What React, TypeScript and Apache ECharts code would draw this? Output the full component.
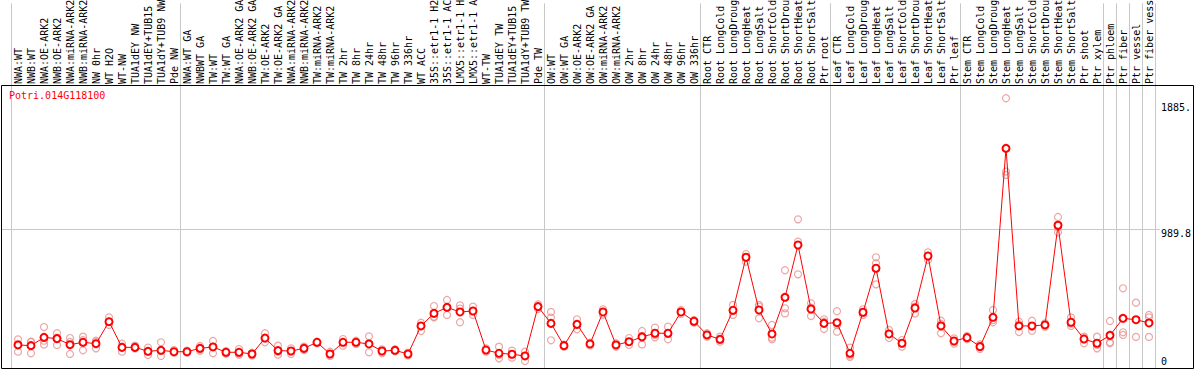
import React, { useEffect, useRef } from "react";
import * as echarts from "echarts";

const geneTitle = "Potri.014G118100";

// category labels as they can be read in the picture (the long ones are cut at 14 characters)
const categories = [
  "NWA:WT", "NWB:WT", "NWA:OE-ARK2", "NWB:OE-ARK2", "NWA:miRNA-ARK2", "NWB:miRNA-ARK2",
  "NW 0hr", "WT H2O", "WT-NW", "TUA1dEY NW", "TUA1dEY+TUB15", "TUA1dY+TUB9 NW", "Pde NW",
  "NWA:WT GA", "NWBWT GA", "TW:WT", "TW:WT GA", "NWA:OE-ARK2 GA", "NWB:OE-ARK2 GA",
  "TW:OE-ARK2", "TW:OE-ARK2 GA", "NWA:miRNA-ARK2", "NWB:miRNA-ARK2", "TW:miRNA-ARK2",
  "TW:miRNA-ARK2", "TW 2hr", "TW 8hr", "TW 24hr", "TW 48hr", "TW 96hr", "TW 336hr", "WT ACC",
  "35S::etr1-1 H2", "35S::etr1-1 AC", "LMX5::etr1-1 H", "LMX5::etr1-1 A", "WT-TW",
  "TUA1dEY TW", "TUA1dEY+TUB15", "TUA1dY+TUB9 TW", "Pde TW",
  "OW:WT", "OW:WT GA", "OW:OE-ARK2", "OW:OE-ARK2 GA", "OW:miRNA-ARK2", "OW:miRNA-ARK2",
  "OW 2hr", "OW 8hr", "OW 24hr", "OW 48hr", "OW 96hr", "OW 336hr",
  "Root CTR", "Root LongCold", "Root LongDroug", "Root LongHeat", "Root LongSalt",
  "Root ShortCold", "Root ShortDrou", "Root ShortHeat", "Root ShortSalt", "Ptr root",
  "Leaf CTR", "Leaf LongCold", "Leaf LongDroug", "Leaf LongHeat", "Leaf LongSalt",
  "Leaf ShortCold", "Leaf ShortDrou", "Leaf ShortHeat", "Leaf ShortSalt", "Ptr leaf",
  "Stem CTR", "Stem LongCold", "Stem LongDroug", "Stem LongHeat", "Stem LongSalt",
  "Stem ShortCold", "Stem ShortDrou", "Stem ShortHeat", "Stem ShortSalt", "Ptr shoot",
  "Ptr xylem", "Ptr phloem", "Ptr fiber", "Ptr vessel", "Ptr fiber vess",
];

// indices of categories that start a new group (separator drawn before them)
const groupStarts = [0, 13, 41, 53, 63, 73, 84, 85, 86, 87, 88];

const means = [
  167, 162, 221, 212, 169, 186, 176, 332, 150, 150,
  122, 129, 119, 119, 143, 153, 115, 115, 103, 216,
  127, 124, 143, 186, 103, 186, 186, 174, 124, 129,
  103, 302, 391, 434, 401, 408, 131, 108, 101, 89,
  439, 320, 162, 313, 174, 401, 167, 190, 224, 250,
  250, 401, 335, 238, 207, 413, 789, 415, 245, 505,
  876, 422, 320, 325, 108, 399, 711, 245, 179, 429,
  798, 302, 195, 219, 155, 363, 1562, 302, 302, 309,
  1016, 328, 209, 179, 235, 356, 346, 323,
];

const rep1 = [
  207, 190, 294, 250, 216, 226, 197, 363, 176, 162,
  148, 186, 131, 127, 160, 195, 124, 138, 112, 250,
  162, 143, 155, 190, 119, 209, 197, 228, 136, 136,
  112, 325, 443, 486, 448, 439, 143, 155, 127, 119,
  455, 401, 169, 349, 183, 420, 179, 216, 266, 290,
  297, 415, 344, 250, 226, 451, 812, 451, 309, 697,
  1058, 462, 349, 406, 148, 420, 789, 273, 202, 458,
  824, 339, 214, 231, 171, 415, 1917, 332, 339, 320,
  1075, 363, 226, 226, 337, 569, 467, 380,
];

const rep2 = [
  174, 188, 197, 219, 188, 202, 188, 332, 155, 145,
  122, 127, 117, 119, 143, 155, 115, 108, 103, 214,
  119, 124, 143, 186, 103, 186, 186, 179, 124, 129,
  103, 302, 368, 434, 425, 408, 131, 96, 101, 89,
  439, 361, 162, 313, 174, 401, 167, 190, 231, 238,
  245, 401, 335, 238, 202, 408, 789, 439, 219, 427,
  900, 432, 332, 309, 93, 396, 746, 245, 179, 439,
  798, 316, 195, 219, 155, 344, 1397, 313, 297, 309,
  1006, 318, 214, 167, 186, 257, 344, 363,
];

const rep3 = [
  119, 108, 171, 167, 103, 129, 143, 309, 119, 143,
  96, 89, 112, 112, 127, 108, 105, 98, 93, 186,
  98, 103, 131, 179, 89, 162, 174, 115, 108, 122,
  93, 266, 363, 380, 328, 380, 119, 72, 77, 53,
  422, 200, 155, 278, 164, 382, 155, 167, 171, 221,
  207, 387, 325, 226, 190, 380, 758, 356, 207, 391,
  668, 372, 280, 261, 82, 380, 597, 216, 155, 391,
  770, 250, 176, 207, 138, 328, 1373, 259, 268, 297,
  966, 302, 179, 143, 179, 238, 224, 224,
];

const yTickValues = [0, 989.8, 1885.3];
const yTickLabels = ["0", "989.8", "1885."];
const gridLineValues = [989.8];
const Y_MAX = 2011;

const MONO = "'DejaVu Sans Mono', monospace";
const RED = "#ff0000";
const PINK = "#e99090";
const GRAY = "#c8c8c8";

function tickLabel(v: number): string {
  for (let i = 0; i < yTickValues.length; i++) {
    if (Math.abs(yTickValues[i] - v) < 1e-6) return yTickLabels[i];
  }
  return "";
}

export default function App() {
  const ref = useRef<HTMLDivElement>(null);

  useEffect(() => {
    document.body.style.margin = "0";
    if (!ref.current) return;
    const chart = echarts.init(ref.current, undefined, { renderer: "svg" });

    const sepInterval = (index: number) => groupStarts.indexOf(index) >= 0;

    const repSeries = [rep1, rep2, rep3].map((r, k) => ({
      name: "rep" + (k + 1),
      type: "scatter",
      xAxisIndex: 1,
      yAxisIndex: 1,
      symbol: "circle",
      symbolSize: 7,
      itemStyle: { color: "rgba(0,0,0,0)", borderColor: PINK, borderWidth: 1.2 },
      data: r.map((v, i) => [i, v]),
      z: 3,
      silent: true,
    }));

    const option: any = {
      animation: false,
      backgroundColor: "#ffffff",
      title: {
        text: geneTitle,
        left: 9,
        top: 90,
        padding: 0,
        textStyle: { color: RED, fontSize: 10, fontFamily: MONO, fontWeight: "normal" },
      },
      grid: [
        { left: 11.5, right: 38.5, top: 0, height: 85 },
        { left: 11.5, right: 38.5, top: 85, bottom: 1.5 },
        { left: 1, right: 31, top: 85, bottom: 1.5 },
      ],
      xAxis: [
        {
          gridIndex: 0,
          type: "category",
          data: categories,
          position: "bottom",
          boundaryGap: true,
          axisLine: { show: false },
          axisTick: { show: false },
          axisLabel: {
            inside: true,
            rotate: 90,
            interval: 0,
            margin: 1,
            fontSize: 10,
            fontFamily: MONO,
            color: "#000",
            hideOverlap: false,
          },
          splitLine: { show: true, interval: sepInterval, lineStyle: { color: GRAY, width: 1 } },
        },
        {
          gridIndex: 1,
          type: "category",
          data: categories,
          boundaryGap: true,
          axisLine: { show: false },
          axisTick: { show: false },
          axisLabel: { show: false },
          splitLine: { show: true, interval: sepInterval, lineStyle: { color: GRAY, width: 1 } },
        },
        {
          gridIndex: 2,
          type: "value",
          min: 0,
          max: 1,
          show: false,
        },
      ],
      yAxis: [
        { gridIndex: 0, type: "value", min: 0, max: 1, show: false },
        { gridIndex: 1, type: "value", min: 0, max: Y_MAX, show: false },
        {
          gridIndex: 2,
          type: "value",
          position: "right",
          min: 0,
          max: Y_MAX,
          axisLine: { show: false },
          axisTick: { show: false, customValues: gridLineValues },
          splitLine: { show: true, lineStyle: { color: GRAY, width: 1 } },
          axisLabel: {
            customValues: yTickValues.filter((v) => v > 0),
            formatter: (v: number) => tickLabel(v),
            verticalAlign: "top",
            margin: 1,
            fontSize: 10,
            fontFamily: MONO,
            color: "#000",
          },
        },
        {
          gridIndex: 2,
          type: "value",
          position: "right",
          min: 0,
          max: Y_MAX,
          axisLine: { show: false },
          axisTick: { show: false, customValues: [] },
          splitLine: { show: false },
          axisLabel: {
            customValues: yTickValues.filter((v) => v === 0),
            formatter: (v: number) => tickLabel(v),
            verticalAlign: "bottom",
            padding: [0, 0, 2, 0],
            margin: 1,
            fontSize: 10,
            fontFamily: MONO,
            color: "#000",
          },
        },
      ],
      series: [
        ...repSeries,
        {
          name: "mean",
          type: "line",
          xAxisIndex: 1,
          yAxisIndex: 1,
          data: means,
          symbol: "emptyCircle",
          symbolSize: 7,
          showAllSymbol: true,
          lineStyle: { color: RED, width: 1 },
          itemStyle: { color: RED, borderColor: RED, borderWidth: 1.3 },
          z: 4,
          silent: true,
        },
      ],
      graphic: [
        {
          type: "rect",
          shape: { x: 1.5, y: 85.5, width: 1192, height: 283 },
          style: { fill: "none", stroke: "#000", lineWidth: 1 },
          silent: true,
          z: 10,
        },
      ],
    };

    chart.setOption(option);
    return () => chart.dispose();
  }, []);

  return <div ref={ref} style={{ width: 1194, height: 370 }} />;
}
